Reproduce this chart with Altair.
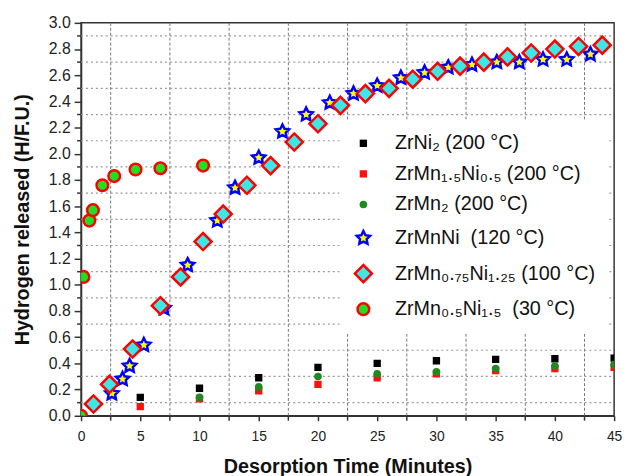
import altair as alt
import pandas as pd

# ---------------- data ----------------
series_names = [
    "ZrNi₂ (200 °C)",
    "ZrMn₁.₅Ni₀.₅ (200 °C)",
    "ZrMn₂ (200 °C)",
    "ZrMnNi\u00a0\u00a0(120 °C)",
    "ZrMn₀.₇₅Ni₁.₂₅ (100 °C)",
    "ZrMn₀.₅Ni₁.₅\u00a0\u00a0(30 °C)",
]

zrni2_t = [5, 10, 15, 20, 25, 30, 35, 40, 45]
zrni2_h = [0.14, 0.21, 0.29, 0.37, 0.40, 0.42, 0.43, 0.435, 0.44]

zrmn15_t = [5, 10, 15, 20, 25, 30, 35, 40, 45]
zrmn15_h = [0.07, 0.13, 0.19, 0.24, 0.29, 0.32, 0.345, 0.36, 0.37]

zrmn2_t = [10, 15, 20, 25, 30, 35, 40, 45]
zrmn2_h = [0.14, 0.22, 0.30, 0.32, 0.335, 0.36, 0.38, 0.39]

zrmnni_t = [2.6, 3.5, 4.1, 5.3, 7.0, 9.0, 11.5, 13.0, 15.0, 17.0, 19.0, 21.0,
            23.0, 25.0, 27.0, 29.0, 31.0, 33.0, 35.1, 37.0, 39.0, 41.0, 43.0]
zrmnni_h = [0.17, 0.28, 0.38, 0.54, 0.82, 1.15, 1.49, 1.74, 1.97, 2.17, 2.30, 2.39,
            2.46, 2.52, 2.58, 2.62, 2.66, 2.68, 2.70, 2.70, 2.72, 2.72, 2.76]

zrmn075_t = [1.05, 2.4, 4.35, 6.7, 8.4, 10.3, 12.0, 14.0, 16.0, 18.0, 20.0, 21.9,
             24.0, 26.0, 28.0, 30.1, 32.0, 34.0, 36.0, 38.0, 40.0, 42.0, 44.0]
zrmn075_h = [0.09, 0.24, 0.51, 0.84, 1.06, 1.33, 1.54, 1.76, 1.91, 2.09, 2.23, 2.37,
             2.46, 2.50, 2.57, 2.63, 2.67, 2.70, 2.74, 2.77, 2.80, 2.82, 2.83]

zrmn05_t = [0, 0.2, 0.7, 1.0, 1.8, 2.8, 4.6, 6.7, 10.3]
zrmn05_h = [0, 1.06, 1.49, 1.57, 1.76, 1.83, 1.88, 1.89, 1.91]

# axis tick positions (labelled majors and gridded minors)
x_major = [0, 5, 10, 15, 20, 25, 30, 35, 40, 45]
x_minor = [2.5, 7.5, 12.5, 17.5, 22.5, 27.5, 32.5, 37.5, 42.5]
y_major = [0.0, 0.2, 0.4, 0.6, 0.8, 1.0, 1.2, 1.4, 1.6, 1.8, 2.0, 2.2, 2.4, 2.6, 2.8, 3.0]
y_minor = [0.1, 0.3, 0.5, 0.7, 0.9, 1.1, 1.3, 1.5, 1.7, 1.9, 2.1, 2.3, 2.5, 2.7, 2.9]

# ---------------- styling ----------------
star = ("M0,-1L0.294,-0.405L0.951,-0.309L0.476,0.155L0.588,0.809L0,0.5"
        "L-0.588,0.809L-0.476,0.155L-0.951,-0.309L-0.294,-0.405Z")
fills = ["#000000", "#ff1010", "#1f8a1f", "#ffff00", "#3ee6e6", "#22dd22"]
strokes = ["transparent", "transparent", "transparent", "#0000ff", "#ff0000", "#ff0000"]
shapes = ["square", "square", "circle", star, "diamond", "circle"]
sizes = [55, 55, 60, 200, 300, 140]

rows = []
for name, ts, hs in [
    (series_names[0], zrni2_t, zrni2_h),
    (series_names[1], zrmn15_t, zrmn15_h),
    (series_names[2], zrmn2_t, zrmn2_h),
    (series_names[3], zrmnni_t, zrmnni_h),
    (series_names[4], zrmn075_t, zrmn075_h),
    (series_names[5], zrmn05_t, zrmn05_h),
]:
    for t, h in zip(ts, hs):
        rows.append({"t": t, "h": h, "series": name})
df = pd.DataFrame(rows)

df_xminor = pd.DataFrame({"t": x_minor})
df_yminor = pd.DataFrame({"h": y_minor})

FONT = "Liberation Sans"
x_scale = alt.Scale(domain=[0, 45], nice=False, zero=False)
y_scale = alt.Scale(domain=[0, 3], nice=False, zero=False)

x_axis = alt.Axis(
    values=x_major, orient="bottom", title="Desorption Time (Minutes)",
    labelFlush=False, labelOverlap=False, format="d", grid=False,
    tickSize=5, tickColor="#333", tickWidth=1.5,
    domainColor="#333", domainWidth=1.5, labelFont=FONT, labelFontSize=14,
    labelColor="#222", labelPadding=9, titleFont=FONT, titleFontSize=20,
    titleFontWeight="bold", titleColor="#111", titlePadding=13)
y_axis = alt.Axis(
    values=y_major, orient="left", title="Hydrogen released (H/F.U.)",
    format=".1f", labelFlush=False, labelOverlap=False, grid=False,
    tickSize=7, tickColor="#333", tickWidth=1.5,
    domainColor="#333", domainWidth=1.5, labelFont=FONT, labelFontSize=16,
    labelColor="#222", labelPadding=4, titleFont=FONT, titleFontSize=20,
    titleFontWeight="bold", titleColor="#111", titlePadding=16)

legend = alt.Legend(
    title=None, orient="none", legendX=262, legendY=98,
    fillColor="white", padding=14, labelFont=FONT, labelFontSize=20,
    labelColor="#111", labelLimit=0, rowPadding=11, labelOffset=22,
    symbolStrokeWidth=2.5,
)

# minor grid lines
vgrid = alt.Chart(df_xminor).mark_rule(
    color="#777", strokeDash=[3, 2], strokeWidth=1
).encode(
    x=alt.X("t:Q", scale=x_scale, axis=x_axis),
    y=alt.YDatum(0, scale=y_scale, axis=y_axis), y2=alt.Y2Datum(3),
)

hgrid = alt.Chart(df_yminor).mark_rule(
    color="#999", strokeDash=[2, 3], strokeWidth=1.2
).encode(
    y=alt.Y("h:Q", scale=y_scale, axis=y_axis),
    x=alt.XDatum(0, scale=x_scale, axis=x_axis), x2=alt.X2Datum(45),
)

# minor tick marks just outside the axes
xminor_ticks = alt.Chart(df_xminor).mark_rule(color="#333", strokeWidth=1.5).encode(
    x=alt.X("t:Q", scale=x_scale, axis=x_axis), y=alt.value(398), y2=alt.value(403))
yminor_ticks = alt.Chart(df_yminor).mark_rule(color="#333", strokeWidth=1.5).encode(
    y=alt.Y("h:Q", scale=y_scale, axis=y_axis), x=alt.value(0), x2=alt.value(-4))

points = alt.Chart(df).mark_point(
    filled=True, opacity=1, clip=True, strokeWidth=2.5
).encode(
    x=alt.X("t:Q", scale=x_scale, axis=x_axis),
    y=alt.Y("h:Q", scale=y_scale, axis=y_axis),
    fill=alt.Fill("series:N", scale=alt.Scale(domain=series_names, range=fills), legend=legend),
    stroke=alt.Stroke("series:N", scale=alt.Scale(domain=series_names, range=strokes), legend=legend),
    shape=alt.Shape("series:N", scale=alt.Scale(domain=series_names, range=shapes), legend=legend),
    size=alt.Size("series:N", scale=alt.Scale(type="ordinal", domain=series_names, range=sizes), legend=legend),
)

chart = alt.layer(vgrid, hgrid, xminor_ticks, yminor_ticks, points).properties(
    width=540, height=398,
    autosize=alt.AutoSizeParams(type="none"),
    padding={"left": 74, "top": 12, "right": 9, "bottom": 60},
    background="white",
).configure_view(stroke="#333", strokeWidth=1.5)

chart.save("out.html", embed_options={"renderer": "svg", "actions": False})
